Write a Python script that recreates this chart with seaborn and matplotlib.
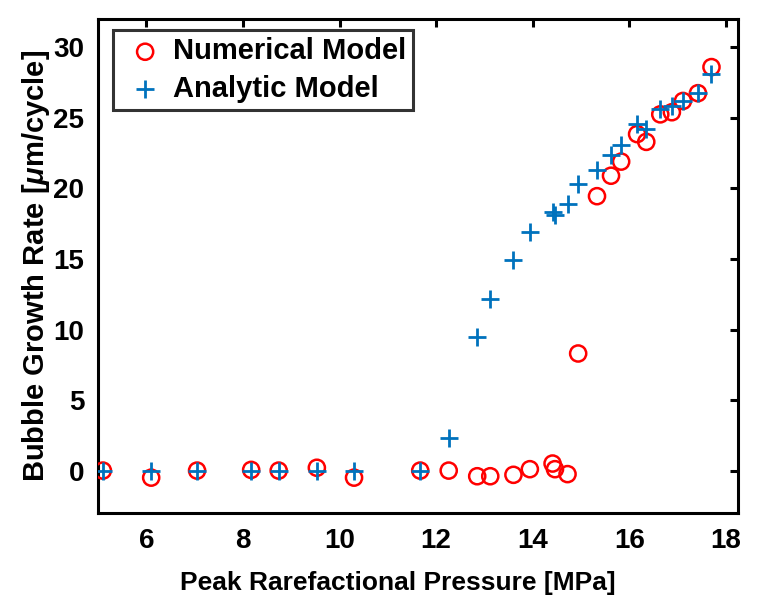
import numpy as np
import pandas as pd
import seaborn as sns
import matplotlib.pyplot as plt

# Peak rarefactional pressure [MPa] for each simulated case
pressure = [5.10, 6.10, 7.05, 8.17, 8.74, 9.53, 10.30, 11.67, 12.26, 12.85,
            13.12, 13.60, 13.94, 14.41, 14.46, 14.72, 14.94, 15.33, 15.62,
            15.83, 16.16, 16.35, 16.64, 16.88, 17.11, 17.42, 17.70]

# Bubble growth rate [um/cycle]
numerical = [0.0, -0.5, 0.0, 0.05, 0.0, 0.2, -0.5, 0.0, 0.0, -0.4,
             -0.4, -0.3, 0.1, 0.5, 0.1, -0.25, 8.3, 19.45, 20.9,
             21.9, 23.85, 23.3, 25.25, 25.4, 26.2, 26.75, 28.6]
analytic = [0.0, 0.0, 0.0, 0.0, 0.0, 0.0, 0.0, 0.0, 2.3, 9.5,
            12.15, 14.95, 16.9, 18.35, 18.1, 18.9, 20.3, 21.3, 22.4,
            23.1, 24.55, 24.2, 25.6, 25.85, 26.2, 26.75, 28.1]

xticks = [6, 8, 10, 12, 14, 16, 18]
yticks = [0, 5, 10, 15, 20, 25, 30]

sns.set_style("white")
plt.rcParams['font.family'] = ['Liberation Sans', 'DejaVu Sans']
plt.rcParams['font.weight'] = 'bold'
plt.rcParams['text.color'] = 'black'
plt.rcParams['axes.labelcolor'] = 'black'
plt.rcParams['mathtext.fontset'] = 'custom'
plt.rcParams['mathtext.it'] = 'Liberation Sans:italic:bold'
plt.rcParams['mathtext.rm'] = 'Liberation Sans:bold'

fig = plt.figure(figsize=(7.66, 6.07), dpi=100)
ax = fig.add_axes([0.128, 0.155, 0.8355, 0.8135])

df = pd.DataFrame({"pressure": pressure, "numerical": numerical, "analytic": analytic})

# Numerical model: open red circles
sns.scatterplot(data=df, x="pressure", y="numerical", marker="o", s=135,
                facecolors="none", edgecolor="red", linewidth=1.8,
                label="Numerical Model", ax=ax, zorder=3)
# Analytic model: blue plus signs
sns.scatterplot(data=df, x="pressure", y="analytic", marker="+", s=150,
                color="#0072BD", linewidth=2.0,
                label="Analytic Model", ax=ax, zorder=4)

ax.set_xlim(5, 18.25)
ax.set_ylim(-3, 32)
ax.set_xticks(xticks)
ax.set_yticks(yticks)

for side in ax.spines.values():
    side.set_visible(True)
    side.set_color("black")
    side.set_linewidth(2.2)

ax.tick_params(direction="in", length=5.5, width=2.2, top=True, right=True,
               labelsize=20, colors="black")
ax.tick_params(axis="x", pad=11)
ax.tick_params(axis="y", pad=10)
for lab in ax.get_xticklabels() + ax.get_yticklabels():
    lab.set_fontweight("bold")

ax.set_xlabel("Peak Rarefactional Pressure [MPa]", fontsize=19,
              fontweight="bold")
ax.set_ylabel(r"Bubble Growth Rate [$\mu$m/cycle]", fontsize=21,
              fontweight="bold", labelpad=1)
# the x label sits a little left of the axis centre in the original
ax.xaxis.set_label_coords(300 / 640, -0.118)

leg = ax.legend(loc="upper left", bbox_to_anchor=(15 / 640, 1 - 11 / 494),
                borderaxespad=0, frameon=True, fancybox=False,
                prop={"size": 21, "weight": "bold"}, handlelength=1.7,
                handletextpad=0.1, borderpad=0.25, labelspacing=0.33)
leg.get_frame().set_edgecolor("black")
leg.get_frame().set_linewidth(2.2)

fig.savefig("out.png", dpi=100)
